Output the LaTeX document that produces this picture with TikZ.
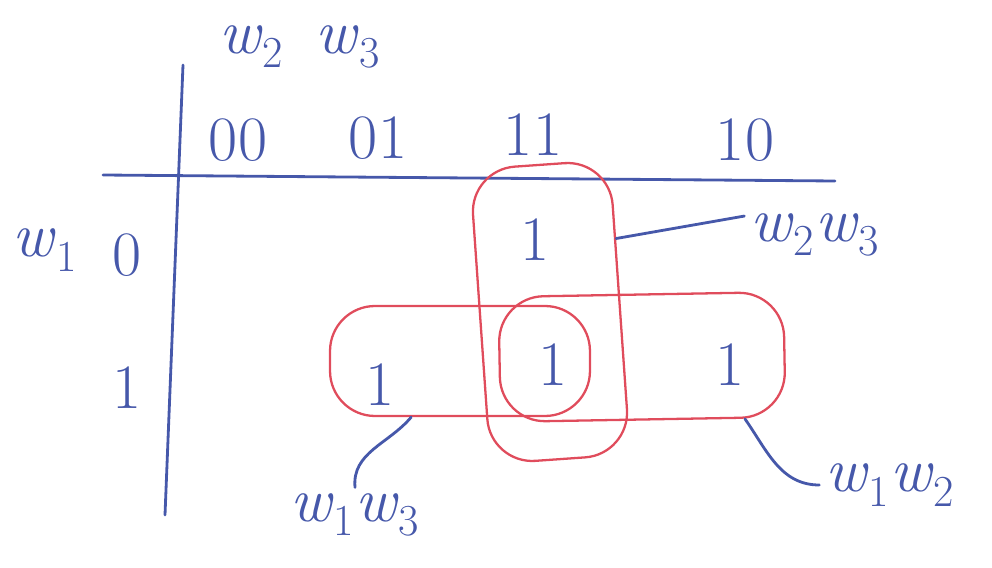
\documentclass[tikz,border=0pt]{standalone}
\usetikzlibrary{positioning}
\definecolor{penblue}{RGB}{70,88,170}
\definecolor{penred}{RGB}{224,76,92}
\newcommand{\wvar}[1]{\textit{w}\textsubscript{#1}}

\begin{document}
\begin{tikzpicture}[x=0.02cm, y=0.02cm, every node/.style={text=penblue, font=\fontsize{36}{40}\selectfont}, ink/.style={draw=penblue, line width=1.6pt, line cap=round}, group/.style={draw=penred, line width=1.3pt, rectangle, rounded corners=0.9cm}]
		\useasboundingbox (0,0) rectangle (992,-568);
		% axes of the map
		\coordinate (hl) at (103,-175); \coordinate (hr) at (835,-181);
		\coordinate (vt) at (183,-65); \coordinate (vb) at (165,-515);
		\draw[ink] (hl) -- (hr);
		\draw[ink] (vt) -- (vb);
		\node (vars23) at (300,-47) {\wvar{2}\enspace\wvar{3}};
		\node (h00) at (238,-140) {00};
		\node (h01) at (378,-138) {01};
		\node (h11) at (533,-135) {11};
		\node (h10) at (745,-140) {10};
		\node (var1) at (45,-250) {\wvar{1}};
		\node (r0) at (127,-255) {0};
		\node (r1) at (127,-388) {1};
		% cells
		\node (c011) at (535,-240) {1};
		\node (c101) at (380,-385) {1};
		\node (c111) at (553,-365) {1};
		\node (c110) at (730,-365) {1};
		% groups
		\node[group, minimum width=2.8cm, minimum height=5.9cm, rotate=4] (g23) at (550,-312) {};
		\node[group, minimum width=5.2cm, minimum height=2.2cm] (g13) at (460,-361) {};
		\node[group, minimum width=5.7cm, minimum height=2.5cm, rotate=1] (g12) at (642,-357) {};
		\node (l23) at (815,-235) {\wvar{2}\wvar{3}};
		\node (l12) at (890,-485) {\wvar{1}\wvar{2}};
		\node (l13) at (355,-515) {\wvar{1}\wvar{3}};
		\draw[ink] (g23.44) -- (l23.165);
		\draw[ink] (g12.-32) to[out=-55, in=180] (l12.west);
		\draw[ink] (g13.229) to[out=-130, in=95] (l13.north);
	\end{tikzpicture}
\end{document}
